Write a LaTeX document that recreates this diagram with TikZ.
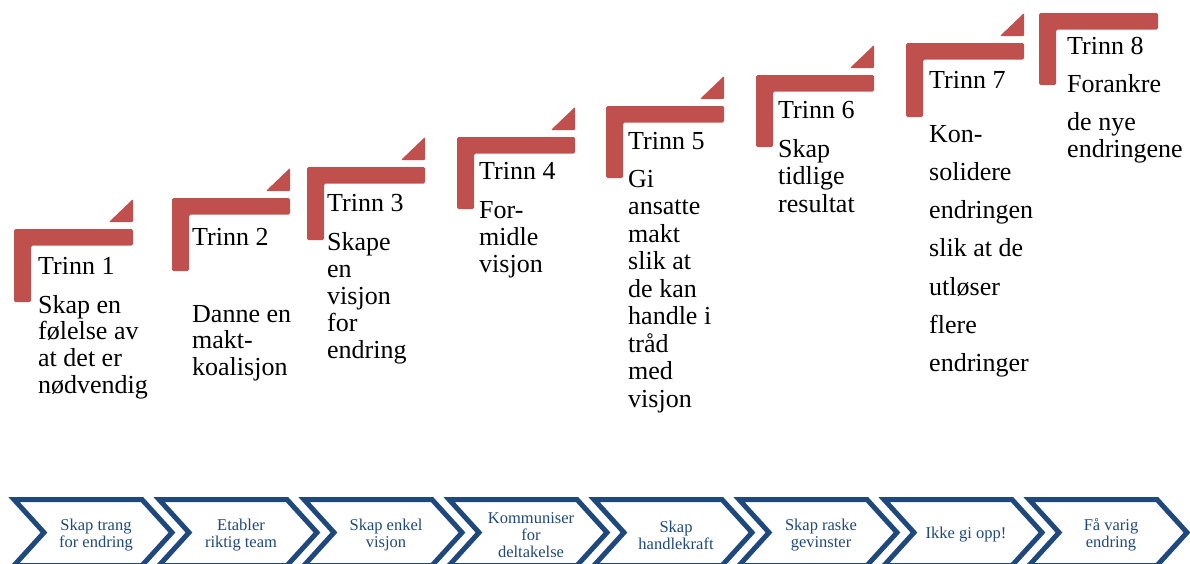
\documentclass[tikz,border=0pt]{standalone}
\usepackage{fontspec}
\setmainfont{Liberation Serif}
\definecolor{stepred}{HTML}{C0504D}
\definecolor{chevblue}{HTML}{1F497D}
\tikzset{
  stepbar/.style={fill=stepred, rounded corners=1.5pt},
  steptri/.style={fill=stepred, rounded corners=1pt},
  trinn/.style={anchor=base west, inner sep=0pt, font=\fontsize{26}{28}\selectfont},
  chevron/.style={draw=chevblue, line width=5pt, fill=white, line join=miter},
  chevtext/.style={align=center, text=chevblue, inner sep=0pt, font=\fontsize{16.5}{17}\selectfont}
}
% #1 L, #2 T, #3 R, #4 B
\newcommand\stepL[4]{%
  \fill[stepbar] (#1,#2) -- (#3,#2) -- (#3,#2+16.5) -- (#1+17,#2+16.5) -- (#1+17,#4) -- (#1,#4) -- cycle;}
\newcommand\stepT[2]{% #1 R, #2 T
  \fill[steptri] (#1-24,#2-7) -- (#1,#2-7) -- (#1,#2-30) -- cycle;}
% #1 id, #2 x, #3 first baseline, #4 spacing, #5 lines
\newcommand\bodylines[5]{%
  \foreach \t [count=\i] in {#5} {\node[trinn] (#1-\i) at (#2,{#3+(\i-1)*#4}) {\t};}}
\begin{document}
\begin{tikzpicture}[x=1pt,y=-1pt]
\useasboundingbox (0,0) rectangle (1190,563);
% steps
\stepL{14}{229}{133}{302}\stepT{133}{229}
\stepL{172}{198}{290}{271}\stepT{290}{198}
\stepL{307}{167}{425}{240}\stepT{425}{167}
\stepL{457}{137}{575}{209}\stepT{575}{137}
\stepL{606}{106}{724}{178}\stepT{724}{106}
\stepL{756}{75}{874}{147}\stepT{874}{75}
\stepL{906}{43}{1024}{117}\stepT{1024}{43}
\stepL{1039}{13}{1158}{85}
% headings
\node[trinn] (h1) at (38,274) {Trinn 1};
\node[trinn] (h2) at (192,245) {Trinn 2};
\node[trinn] (h3) at (327,211) {Trinn 3};
\node[trinn] (h4) at (479,179) {Trinn 4};
\node[trinn] (h5) at (628,149) {Trinn 5};
\node[trinn] (h6) at (778,118) {Trinn 6};
\node[trinn] (h7) at (929,88) {Trinn 7};
\node[trinn] (h8) at (1067,54) {Trinn 8};
% bodies
\bodylines{b1}{38}{313}{26.7}{Skap en,følelse av,at det er,nødvendig}
\bodylines{b2}{192}{322}{26.5}{Danne en,makt-,koalisjon}
\bodylines{b3}{327}{250}{27}{Skape,en,visjon,for,endring}
\bodylines{b4}{479}{218}{27}{For-,midle,visjon}
\bodylines{b5}{628}{187}{27.5}{Gi,ansatte,makt,slik at,de kan,handle i,tråd,med,visjon}
\bodylines{b6}{778}{157}{27.5}{Skap,tidlige,resultat}
\bodylines{b7}{929}{142}{38.3}{Kon-,solidere,endringen,slik at de,utløser,flere,endringer}
\node[trinn] (b8-1) at (1067,92) {Forankre};
\node[trinn] (b8-2) at (1067,130) {de nye};
\node[trinn] (b8-3) at (1067,157) {endringene};
% chevrons
\foreach \i/\txt in {1/{Skap trang\\for endring},2/{Etabler\\riktig team},3/{Skap enkel\\visjon},4/{Kommuniser\\for\\deltakelse},5/{Skap\\handlekraft},6/{Skap raske\\gevinster},7/{Ikke gi opp!},8/{Få varig\\endring}}{
  \pgfmathsetmacro\x{8+145*(\i-1)}
  \draw[chevron] ({\x+6},499.5) -- ({\x+134},499.5) -- ({\x+164},532.5) -- ({\x+134},565.5) -- ({\x+6},565.5) -- ({\x+36},532.5) -- cycle;
  \node[chevtext] (c\i) at ({\x+88},535) {\txt};
}
\end{tikzpicture}
\end{document}
